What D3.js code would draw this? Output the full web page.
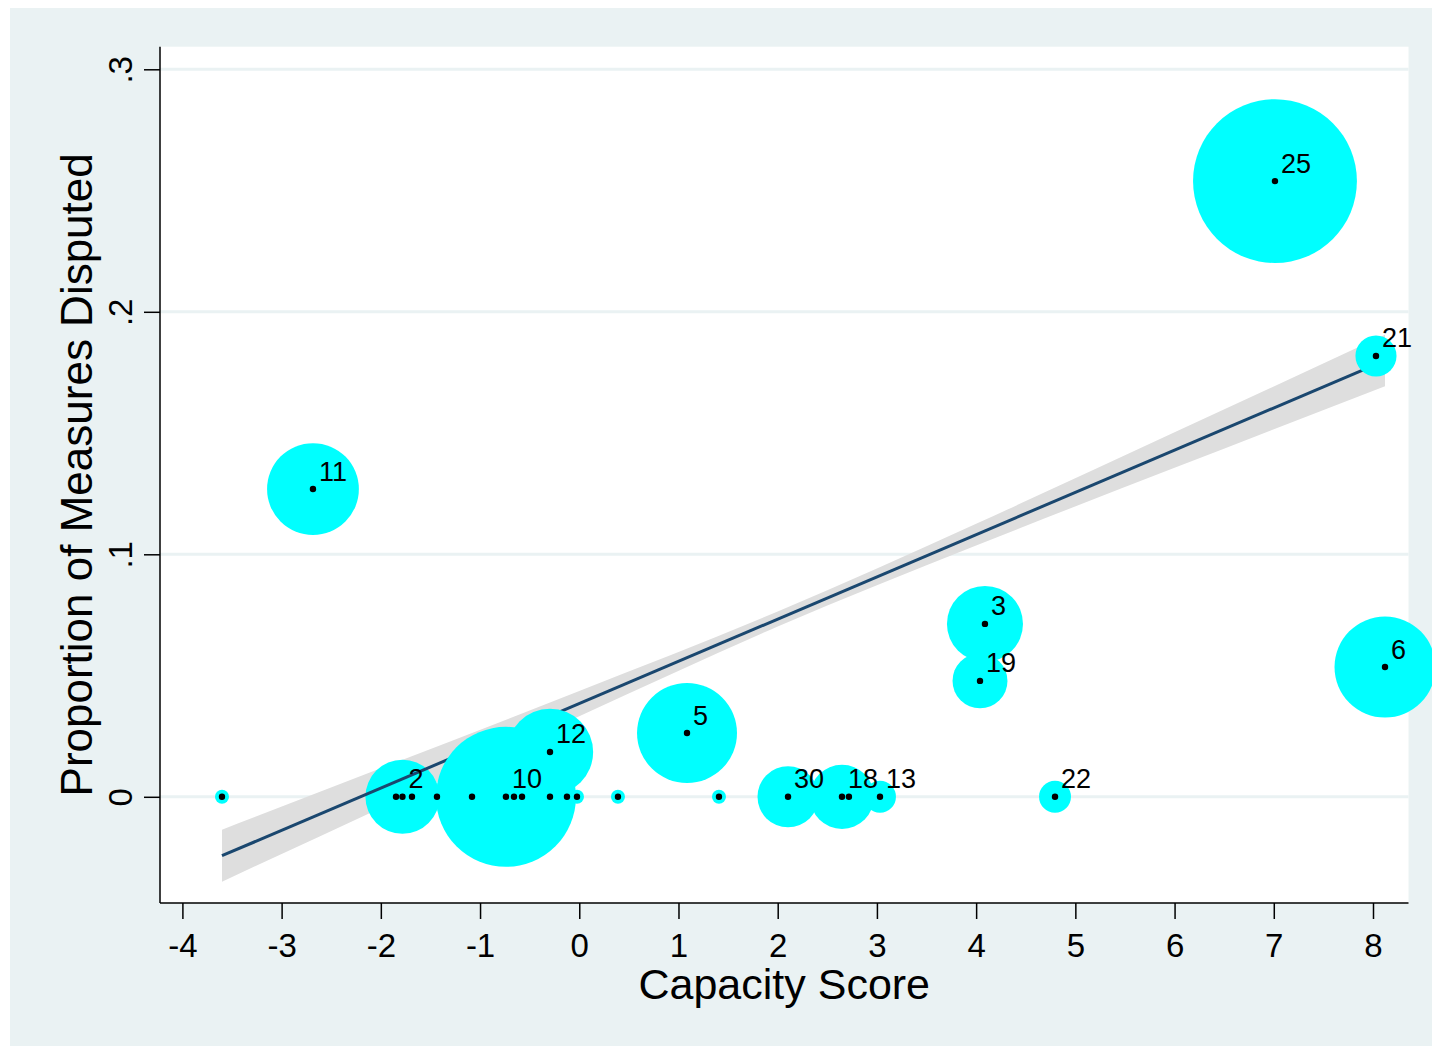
<!DOCTYPE html>
<html>
<head>
<meta charset="utf-8">
<script src="https://cdn.jsdelivr.net/npm/d3@7"></script>
<style>
  html, body { margin: 0; padding: 0; background: #ffffff; }
  svg { display: block; }
  text { font-family: "Liberation Sans", Arial, Helvetica, sans-serif; fill: #000; }
</style>
</head>
<body>
<svg id="chart" width="1432" height="1047"></svg>
<script>
// Capacity score (x), share of measures disputed (y), bubble weight, and marker label
const capacity = [-3.601, -2.684, -1.847, -1.782, -1.686, -1.434, -1.081, -0.739, -0.658, -0.577,
                  -0.295, -0.295, -0.124, -0.023, 0.390, 1.086, 1.408, 2.104, 2.648, 2.718,
                  3.031, 4.089, 4.039, 4.795, 7.012, 8.030, 8.121];
const disputed = [0, 0.1269, 0, 0, 0, 0, 0, 0, 0, 0,
                  0, 0.0185, 0, 0, 0, 0.0263, 0, 0, 0, 0,
                  0, 0.0713, 0.0478, 0, 0.2539, 0.1818, 0.0535];
const weight   = [1, 43, 1, 28, 1, 1, 1, 100, 1, 1,
                  1, 38, 1, 1, 1, 51, 1, 19, 21, 1,
                  5.2, 29.5, 15.4, 5.2, 137, 8.6, 52];
const pointLabels = ["", "11", "", "2", "", "", "", "10", "", "",
                     "", "12", "", "", "", "5", "", "30", "18", "",
                     "13", "3", "19", "22", "25", "21", "6"];

// Linear fit and its 95% confidence band
const fitX = [-3.601, 8.121];
const fitY = [-0.0243, 0.1799];
const bandX  = [-3.601, -2, 0, 2, 4, 6, 8.121];
const bandLo = [-0.0350, -0.0046, 0.0332, 0.0702, 0.1036, 0.1357, 0.1693];
const bandHi = [-0.0136, 0.0118, 0.0436, 0.0764, 0.1126, 0.1503, 0.1905];

// Axis ticks
const xTicks = [-4, -3, -2, -1, 0, 1, 2, 3, 4, 5, 6, 7, 8];
const yTicks = [0, 0.1, 0.2, 0.3];
const yTickLabels = ["0", ".1", ".2", ".3"];

// Bubbles that sit above the fit line
const aboveLine = ["10", "12", "21"];

const svg = d3.select("#chart");
const W = 1432;
const plot = { left: 160, top: 46.7, right: 1408.5, bottom: 903 };

const x = d3.scaleLinear().domain([-4, 8]).range([182.4, 1373]);
const y = d3.scaleLinear().domain([0, 0.3]).range([796.8, 69.3]);
const r = d3.scaleSqrt().domain([0, 100]).range([0, 70]);

// Outer graph region and inner plot region
svg.append("rect").attr("x", 10).attr("y", 8).attr("width", W - 10).attr("height", 1038)
   .attr("fill", "#eaf2f3");
svg.append("rect").attr("x", plot.left).attr("y", plot.top)
   .attr("width", plot.right - plot.left).attr("height", plot.bottom - plot.top)
   .attr("fill", "#ffffff");

// Horizontal grid lines
svg.append("g").selectAll("line").data(yTicks).join("line")
   .attr("x1", plot.left).attr("x2", plot.right)
   .attr("y1", d => y(d)).attr("y2", d => y(d))
   .attr("stroke", "#eaf2f3").attr("stroke-width", 3);

// Confidence band
const band = bandX.map((v, i) => ({ x: v, lo: bandLo[i], hi: bandHi[i] }));
svg.append("path").datum(band)
   .attr("d", d3.area().x(d => x(d.x)).y0(d => y(d.lo)).y1(d => y(d.hi)).curve(d3.curveMonotoneX))
   .attr("fill", "#dedede");

const pts = capacity.map((v, i) => ({ x: v, y: disputed[i], w: weight[i], label: pointLabels[i] }));

function drawBubbles(g, data) {
  g.selectAll("circle").data(data).join("circle")
   .attr("cx", d => x(d.x)).attr("cy", d => y(d.y)).attr("r", d => r(d.w))
   .attr("fill", "#00ffff");
}

drawBubbles(svg.append("g"), pts.filter(d => !aboveLine.includes(d.label)));

// Fitted values line
const fit = fitX.map((v, i) => ({ x: v, y: fitY[i] }));
svg.append("path").datum(fit)
   .attr("d", d3.line().x(d => x(d.x)).y(d => y(d.y)))
   .attr("fill", "none").attr("stroke", "#1a476f").attr("stroke-width", 3);

drawBubbles(svg.append("g"), pts.filter(d => aboveLine.includes(d.label)));

// Point markers and labels
svg.append("g").selectAll("circle").data(pts).join("circle")
   .attr("cx", d => x(d.x)).attr("cy", d => y(d.y)).attr("r", 3.2)
   .attr("fill", "#000");
svg.append("g").selectAll("text").data(pts.filter(d => d.label)).join("text")
   .attr("x", d => x(d.x) + 6).attr("y", d => y(d.y) - 8.5)
   .attr("font-size", 27).text(d => d.label);

// Axes
const xAxis = svg.append("g").attr("transform", `translate(0,${plot.bottom})`)
   .call(d3.axisBottom(x).tickValues(xTicks).tickSize(16).tickPadding(14.5)
         .tickFormat(d3.format("d")));
xAxis.select(".domain").attr("d", `M${plot.left},0H${plot.right}`).attr("stroke-width", 1.5);
xAxis.selectAll(".tick line").attr("stroke-width", 1.5);
xAxis.selectAll("text").attr("font-size", 33).attr("font-family", null)
   .text(d => String(d).replace("−", "-"));

const yAxis = svg.append("g").attr("transform", `translate(${plot.left},0)`)
   .call(d3.axisLeft(y).tickValues(yTicks).tickSize(16)
         .tickFormat((d, i) => yTickLabels[i]));
yAxis.select(".domain").attr("d", `M0,${plot.top}V${plot.bottom}`).attr("stroke-width", 1.5);
yAxis.selectAll(".tick line").attr("stroke-width", 1.5);
yAxis.selectAll("text").attr("font-size", 33).attr("font-family", null)
   .attr("x", null).attr("dy", null).attr("text-anchor", "middle")
   .attr("transform", "translate(-28.5,0) rotate(-90)");

svg.selectAll(".domain, .tick line").attr("stroke", "#000");

// Axis titles
svg.append("text").attr("x", (plot.left + plot.right) / 2).attr("y", 999)
   .attr("text-anchor", "middle").attr("font-size", 43).text("Capacity Score");
svg.append("text").attr("transform", `translate(92,${(plot.top + plot.bottom) / 2}) rotate(-90)`)
   .attr("text-anchor", "middle").attr("font-size", 44).text("Proportion of Measures Disputed");
</script>
</body>
</html>
